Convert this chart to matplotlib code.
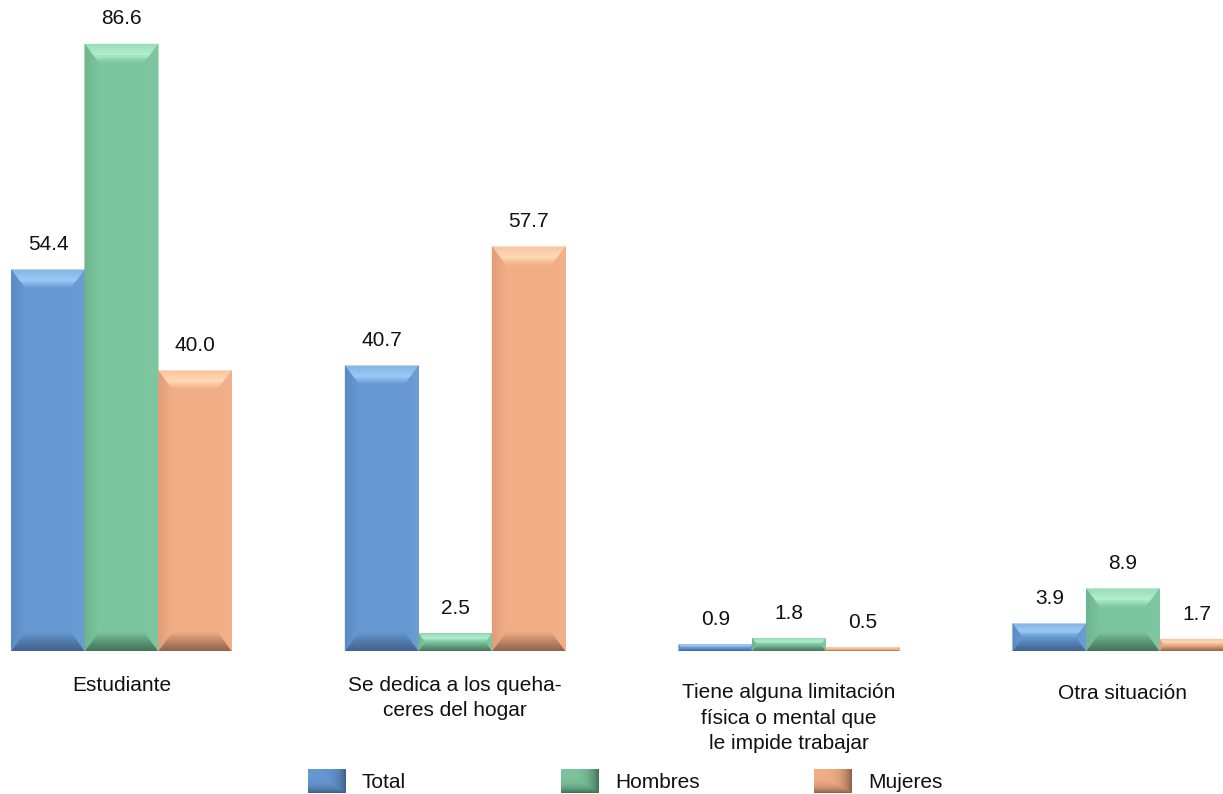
import matplotlib
matplotlib.use("Agg")
import matplotlib.pyplot as plt
from matplotlib.patches import Polygon
import matplotlib.transforms as mtransforms
from matplotlib.colors import to_rgb
import numpy as np

categories = ["Estudiante",
              "Se dedica a los queha-\nceres del hogar",
              "Tiene alguna limitación\nfísica o mental que\nle impide trabajar",
              "Otra situación"]
series_names = ["Total", "Hombres", "Mujeres"]
total = [54.4, 40.7, 0.9, 3.9]
hombres = [86.6, 2.5, 1.8, 8.9]
mujeres = [40.0, 57.7, 0.5, 1.7]
value_labels = [["54.4", "40.7", "0.9", "3.9"],
                ["86.6", "2.5", "1.8", "8.9"],
                ["40.0", "57.7", "0.5", "1.7"]]

series = [total, hombres, mujeres]
# face, top bevel highlight, bottom bevel dark, left side, right side
palettes = [
    ("#6698d1", "#9dcbf7", "#41618c", "#5a8ac4", "#6c9dd4"),
    ("#7bc49d", "#b2f0cf", "#437057", "#6db48d", "#80c8a1"),
    ("#f1ad86", "#ffdab6", "#8f624b", "#de9c78", "#f2b18b"),
]

plt.rcParams['font.family'] = ['Liberation Sans', 'DejaVu Sans']
FS = 15

W, H = 1223, 794
fig = plt.figure(figsize=(W / 100, H / 100), dpi=100)
base_px = 651
ax = fig.add_axes([0, (H - base_px) / H, 1, base_px / H])
ax.set_axis_off()

unit_px = 333.8
px_per_val = 607 / 86.6
ax.set_xlim(-121.5 / unit_px, (W - 121.5) / unit_px)
ax.set_ylim(0, base_px / px_per_val)

x = np.arange(len(categories))
bw = 73.5 / unit_px
offsets = [-bw, 0, bw]

BX, BY = 14, 19  # bevel size in px
NSTRIP = 10


def mix(c1, c2, t):
    a = np.array(to_rgb(c1)); b = np.array(to_rgb(c2))
    return tuple(a + (b - a) * t)


for s, vals in enumerate(series):
    face, top, bot, left, right = palettes[s]
    bars = ax.bar(x + offsets[s], vals, width=bw, color=face, linewidth=0, zorder=2)
    for bar, lab in zip(bars, value_labels[s]):
        x0 = bar.get_x(); w = bar.get_width(); h = bar.get_height()
        x1 = x0 + w
        hpx = h * px_per_val
        k = min(1.0, hpx / (2 * BY))
        bx = BX * k / unit_px
        by = BY * k / px_per_val
        for j in range(NSTRIP):
            t0 = j / NSTRIP; t1 = (j + 1) / NSTRIP; tm = (t0 + t1) / 2
            if tm < 0.55:
                ctop = mix(mix(face, top, 0.55), top, tm / 0.55)
            else:
                ctop = mix(top, face, (tm - 0.55) / 0.45)
            cbot = mix(bot, face, tm ** 1.2)
            cl = mix(left, face, tm)
            cr = mix(right, face, tm)
            polys = [
                ([(x0 + bx * t0, h - by * t0), (x1 - bx * t0, h - by * t0),
                  (x1 - bx * t1, h - by * t1), (x0 + bx * t1, h - by * t1)], ctop),
                ([(x0 + bx * t0, by * t0), (x1 - bx * t0, by * t0),
                  (x1 - bx * t1, by * t1), (x0 + bx * t1, by * t1)], cbot),
                ([(x0 + bx * t0, by * t0), (x0 + bx * t1, by * t1),
                  (x0 + bx * t1, h - by * t1), (x0 + bx * t0, h - by * t0)], cl),
                ([(x1 - bx * t0, by * t0), (x1 - bx * t1, by * t1),
                  (x1 - bx * t1, h - by * t1), (x1 - bx * t0, h - by * t0)], cr),
            ]
            for pts, c in polys:
                ax.add_patch(Polygon(pts, closed=True, facecolor=c, edgecolor=c,
                                     linewidth=0.3, zorder=3))
        ax.annotate(lab, xy=(x0 + w / 2, h), xytext=(0, 18), textcoords='offset points',
                    ha='center', va='center', fontsize=FS, color='#111111')

# category labels
label_baselines = [[691], [691, 716], [698, 724, 749], [699]]
blend = mtransforms.blended_transform_factory(ax.transData, fig.transFigure)
for i, (cat, bls) in enumerate(zip(categories, label_baselines)):
    for line, bl in zip(cat.split("\n"), bls):
        ax.text(x[i], (H - bl) / H, line, transform=blend,
                ha='center', va='baseline', fontsize=FS, color='#111111')

# legend
leg_x = [308, 561, 814]
uu, vv = np.meshgrid(np.linspace(0, 1, 40), np.linspace(0, 1, 26))
d = np.clip(np.maximum(uu, vv), 0, 1) ** 4
for s, name in enumerate(series_names):
    face, top, bot, left, right = palettes[s]
    x0 = leg_x[s]; y0 = 769; w = 38; h = 24
    lax = fig.add_axes([x0 / W, (H - y0 - h) / H, w / W, h / H])
    lax.set_axis_off()
    fa = np.array(to_rgb(face)); ba = np.array(to_rgb(bot))
    img = fa[None, None, :] + (ba - fa)[None, None, :] * d[:, :, None]
    lax.imshow(img, aspect='auto', interpolation='bilinear')
    fig.text((x0 + w + 16) / W, (H - 783) / H, name, ha='left', va='center',
             fontsize=FS, color='#111111')

fig.savefig("out.png", dpi=100, facecolor='white')
